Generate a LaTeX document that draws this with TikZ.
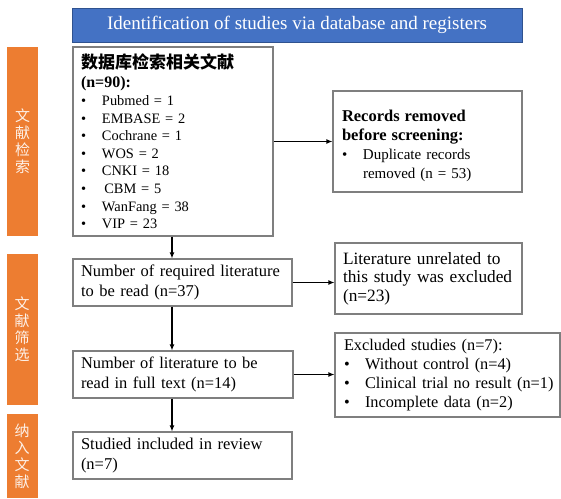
\documentclass[tikz,border=0pt]{standalone}
\usepackage{fontspec}
\setmainfont{Liberation Serif}
\newfontfamily\cjk{Noto Sans CJK SC}
\usetikzlibrary{arrows.meta}
\definecolor{boxline}{HTML}{7F7F7F}
\definecolor{titleblue}{HTML}{4472C4}
\definecolor{titleedge}{HTML}{2F528F}
\definecolor{barorange}{HTML}{ED7D31}
\definecolor{bartext}{HTML}{FDF0E7}
\newcommand{\bul}{\makebox[21pt][l]{\textbullet}}
\tikzset{
  box/.style={draw=boxline, line width=1.1pt, fill=white, align=left,
    inner xsep=8pt, inner ysep=0pt, anchor=center},
  bar/.style={fill=barorange, text=bartext, align=center, inner sep=0pt,
    minimum width=31pt, font=\cjk\fontsize{15}{17}\selectfont},
  arr/.style={-{Latex[length=6pt,width=5pt]}, line width=1.2pt, black},
}
\begin{document}
\begin{tikzpicture}[x=1pt,y=-1pt]
\useasboundingbox (0,0) rectangle (561,498);
% title
\node[draw=titleedge, fill=titleblue, line width=1pt, text=white,
  minimum width=450pt, minimum height=34pt, inner sep=0pt,
  font=\fontsize{19}{22}\selectfont] (title) at (297,25)
  {Identification of studies via database and registers};
% side bars
\node[bar, minimum height=189pt] (s1) at (22.5,141.5) {文\\献\\检\\索};
\node[bar, minimum height=151pt] (s2) at (22,329.5) {文\\献\\筛\\选};
\node[bar, minimum height=84pt] (s3) at (22,456) {纳\\入\\文\\献};
% boxes
\node[box, text width=184pt, minimum height=189pt,
  font=\fontsize{14.4}{17.6}\selectfont] (b1) at (173,141.5)
  {{\cjk\bfseries\fontsize{17}{19}\selectfont 数据库检索相关文献}\\[1.5pt]
   {\bfseries\fontsize{16}{19}\selectfont (n=90):}\\
   \bul Pubmed = 1\\
   \bul EMBASE = 2\\
   \bul Cochrane = 1\\
   \bul WOS = 2\\
   \bul CNKI = 18\\
   \bul \,CBM = 5\\
   \bul WanFang = 38\\
   \bul VIP = 23};
\node[box, inner xsep=9pt, text width=171pt, minimum height=101pt,
  font=\fontsize{15}{19}\selectfont] (b2) at (427.5,141.5)
  {\rule{0pt}{20pt}{\bfseries\fontsize{16.5}{19}\selectfont Records removed}\\
   {\bfseries\fontsize{16.5}{19}\selectfont before screening:}\\
   \bul Duplicate records\\
   \hspace*{21pt}removed (n = 53)};
\node[box, text width=203pt, minimum height=47pt,
  font=\fontsize{16.5}{20}\selectfont] (b3) at (182.5,282.5)
  {Number of required literature\\ to be read (n=37)};
\node[box, text width=171pt, minimum height=71pt,
  font=\fontsize{17.3}{18.5}\selectfont] (b4) at (428.5,278.5)
  {Literature unrelated to\\ this study was excluded\\ (n=23)};
\node[box, text width=204pt, minimum height=47pt,
  font=\fontsize{16.4}{20}\selectfont] (b5) at (183,374.5)
  {Number of literature to be\\ read in full text (n=14)};
\node[box, inner xsep=9pt, text width=207pt, minimum height=84pt,
  font=\fontsize{16.3}{19}\selectfont] (b6) at (447.5,375)
  {Excluded studies (n=7):\\
   \bul Without control (n=4)\\
   \mbox{\bul Clinical trial no result (n=1)}\\
   \bul Incomplete data (n=2)};
\node[box, text width=203pt, minimum height=47pt,
  font=\fontsize{16.5}{20}\selectfont] (b7) at (182.5,455.5)
  {Studied included in review\\ (n=7)};
% connectors
\coordinate (ax) at (172,0);
\draw[arr] (b1.south -| ax) -- (b3.north -| ax);
\draw[arr] (b3.south -| ax) -- (b5.north -| ax);
\draw[arr] (b5.south -| ax) -- (b7.north -| ax);
\draw[arr] (b1.east) -- (b2.west);
\draw[arr] (b3.east) -- (b3.east -| b4.west);
\draw[arr] (b5.east) -- (b5.east -| b6.west);
\end{tikzpicture}
\end{document}
